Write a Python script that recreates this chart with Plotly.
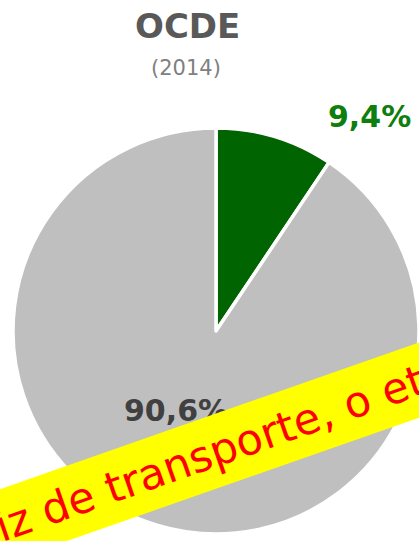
import plotly.graph_objects as go

# Data
categories = ["Etanol", "Outros"]
values = [9.4, 90.6]
colors = ["#006400", "#BFBFBF"]
label_colors = ["#0E7F0E", "#404040"]
title_text = "OCDE"
subtitle_text = "(2014)"
banner_text = "matriz de transporte, o etanol"

W, H = 419, 541

def px(x):
    return x / W

def py(y):
    return 1 - y / H

# pie geometry in window pixels: center (216, 331), radius 203
cx, cy, r = 216, 331, 203
fig = go.Figure(go.Pie(
    labels=categories,
    values=values,
    sort=False,
    direction="clockwise",
    rotation=0,
    marker=dict(colors=colors, line=dict(color="white", width=3.5)),
    textinfo="none",
    hoverinfo="label+percent",
    showlegend=False,
    domain=dict(x=[px(cx - r), min(1.0, px(cx + r))], y=[py(cy + r), py(cy - r)]),
))

def fmt(v):
    return f"{v:.1f}%".replace(".", ",")

# value labels
label_pos = [(369, 117), (176, 410)]
for v, c, (lx, ly) in zip(values, label_colors, label_pos):
    fig.add_annotation(x=px(lx), y=py(ly), xref="paper", yref="paper",
                       text=f"<b>{fmt(v)}</b>", showarrow=False,
                       font=dict(family="DejaVu Sans", size=30, color=c),
                       xanchor="center", yanchor="middle")

# Title and subtitle
fig.add_annotation(x=px(187), y=py(26), xref="paper", yref="paper",
                   text=f"<b>{title_text}</b>", showarrow=False,
                   font=dict(family="DejaVu Sans", size=34, color="#595959"),
                   xanchor="center", yanchor="middle")
fig.add_annotation(x=px(186), y=py(68), xref="paper", yref="paper",
                   text=subtitle_text, showarrow=False,
                   font=dict(family="DejaVu Sans", size=21, color="#808080"),
                   xanchor="center", yanchor="middle")

# Overlay banner
fig.add_annotation(x=px(205), y=py(455), xref="paper", yref="paper",
                   text=banner_text, showarrow=False, textangle=-19.3,
                   font=dict(family="DejaVu Sans", size=43, color="#FF0000"),
                   bgcolor="#FFFF00", borderpad=10,
                   xanchor="center", yanchor="middle")

fig.update_layout(width=W, height=H, margin=dict(l=0, r=0, t=0, b=0),
                  paper_bgcolor="white", plot_bgcolor="white")

# remove the default page margin so the figure fills the window exactly
fig.write_html("out.html",
               config={"displayModeBar": False},
               post_script="document.body.style.margin='0';"
                           "document.body.style.overflow='hidden';")
